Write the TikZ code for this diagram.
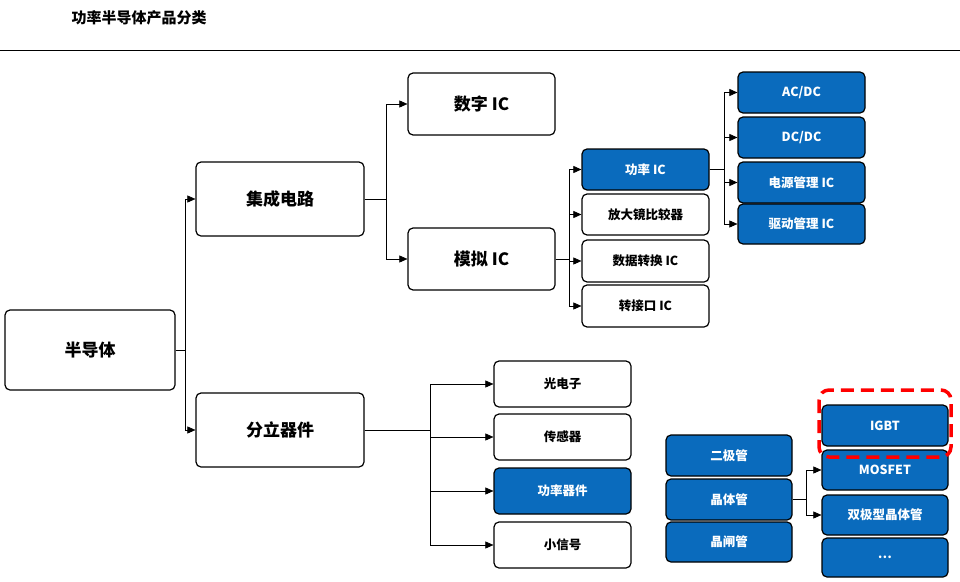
\documentclass[tikz,border=0pt]{standalone}
\usepackage{fontspec}
\setmainfont{Noto Sans CJK SC}
\usetikzlibrary{arrows.meta}
\definecolor{bl}{HTML}{0A6BBD}
\begin{document}
\begin{tikzpicture}[x=1pt,y=-1pt,
 bx/.style={draw=black,line width=1.2pt,rounded corners=5pt,fill=white,font=\bfseries},
 bb/.style={bx,fill=bl,text=white},
 big/.style={font=\bfseries\fontsize{17}{20}\selectfont},
 sm/.style={font=\bfseries\fontsize{12.5}{15}\selectfont},
 ar/.style={-{Triangle[length=8pt,width=7pt]},line width=0.6pt}]
\useasboundingbox (0,0) rectangle (960,581);
\node[anchor=west,font=\bfseries\fontsize{15}{18}\selectfont] (title) at (68,18) {功率半导体产品分类};
\draw[line width=0.6pt] (0,50) -- (960,50);
\newcommand\bxn[7]{\node[#1,#2,minimum width=#5-#3,minimum height=#6-#4,inner sep=0pt] (#7) at ({(#3+#5)/2},{(#4+#6)/2})}
\bxn{bx}{big}{5}{310}{175}{390}{semi}{半导体};
\bxn{bx}{big}{196}{162}{364}{236}{ic}{集成电路};
\bxn{bx}{big}{196}{393}{364}{467}{disc}{分立器件};
\bxn{bx}{big}{408}{73}{555}{135}{dig}{数字 IC};
\bxn{bx}{big}{408}{228}{555}{290}{ana}{模拟 IC};
\bxn{bb}{sm}{582}{149}{709}{190}{pic}{功率 IC};
\bxn{bx}{sm}{582}{194}{709}{235}{amp}{放大镜比较器};
\bxn{bx}{sm}{582}{240}{709}{282}{dat}{数据转换 IC};
\bxn{bx}{sm}{582}{285}{709}{327}{itf}{转接口 IC};
\bxn{bb}{sm}{738}{72}{865}{113}{acdc}{AC/DC};
\bxn{bb}{sm}{738}{117}{865}{158}{dcdc}{DC/DC};
\bxn{bb}{sm}{738}{162}{865}{203}{pm}{电源管理 IC};
\bxn{bb}{sm}{738}{204}{865}{244}{dm}{驱动管理 IC};
\bxn{bx}{sm}{494}{361}{631}{407}{opt}{光电子};
\bxn{bx}{sm}{494}{414}{631}{460}{sen}{传感器};
\bxn{bb}{sm}{494}{468}{631}{514}{pd}{功率器件};
\bxn{bx}{sm}{494}{522}{631}{568}{sig}{小信号};
\bxn{bb}{sm}{666}{435}{792}{476}{dio}{二极管};
\bxn{bb}{sm}{666}{479}{792}{520}{tr}{晶体管};
\bxn{bb}{sm}{666}{522}{792}{562}{thy}{晶闸管};
\bxn{bb}{sm}{822}{405}{948}{446}{igbt}{IGBT};
\bxn{bb}{sm}{822}{450}{948}{490}{mos}{MOSFET};
\bxn{bb}{sm}{822}{495}{948}{535}{bjt}{双极型晶体管};
\bxn{bb}{sm}{822}{538}{948}{577}{etc}{…};
\draw[red,line width=3.5pt,dash pattern=on 13pt off 7pt,rounded corners=10pt] (819,390) rectangle (951,457);
\newcommand\tree[3]{\foreach \t in {#3} {\draw[ar] (#1.east) -| (#2,0 |- \t.west) -- (\t.west);}}
\draw[ar] (semi.east) -| (185,0 |- ic.west) -- (ic.west);
\draw[ar] (semi.east) -| (185,0 |- disc.west) -- (disc.west);
\foreach \t in {dig,ana} \draw[ar] (ic.east) -| (386,0 |- \t.west) -- (\t.west);
\foreach \t in {pic,amp,dat,itf} \draw[ar] (ana.east) -| (569,0 |- \t.west) -- (\t.west);
\foreach \t in {acdc,dcdc,pm,dm} \draw[ar] (pic.east) -| (724,0 |- \t.west) -- (\t.west);
\foreach \t in {opt,sen,pd,sig} \draw[ar] (disc.east) -| (430,0 |- \t.west) -- (\t.west);
\foreach \t in {mos,bjt} \draw[ar] (tr.east) -| (806,0 |- \t.west) -- (\t.west);
\end{tikzpicture}
\end{document}
